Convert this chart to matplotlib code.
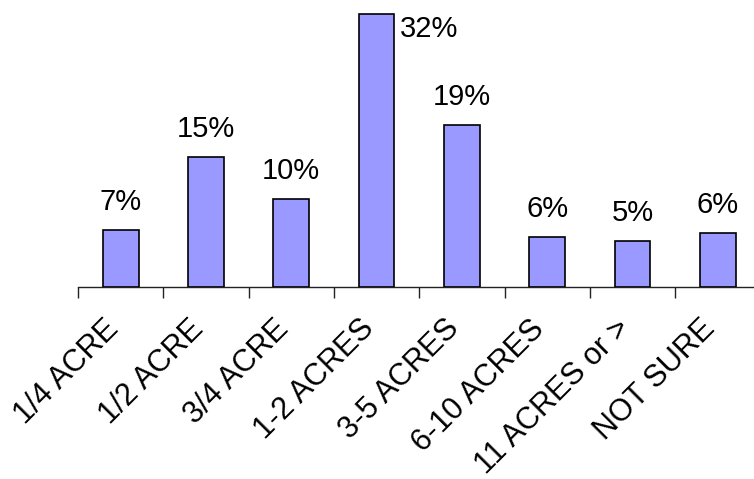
import matplotlib
matplotlib.use("Agg")
import matplotlib.pyplot as plt
import matplotlib.transforms as mtransforms
import numpy as np

categories = ["1/4 ACRE", "1/2 ACRE", "3/4 ACRE", "1-2 ACRES", "3-5 ACRES",
              "6-10 ACRES", "11 ACRES or >", "NOT SURE"]
values = [6.7, 15.2, 10.3, 32.0, 19.0, 5.9, 5.4, 6.3]

plt.rcParams['font.family'] = ['Liberation Sans', 'DejaVu Sans']

fig = plt.figure(figsize=(7.54, 4.79), dpi=100)
ax = fig.add_axes([78/754, 192/479, 682.4/754, 287/479])

x = np.arange(len(categories))
bars = ax.bar(x, values, width=0.42, color="#9999FF", edgecolor="black", linewidth=1.2, zorder=3)

ax.set_xlim(-0.5, len(categories) - 0.5)
ax.set_ylim(0, 33.6)

for i, v in enumerate(values):
    label = f"{v:.0f}%"
    if v > 30:
        ax.annotate(label, (i + 0.21, v), xytext=(4, -1), textcoords="offset points",
                    ha="left", va="top", fontsize=21, annotation_clip=False)
    else:
        ax.annotate(label, (i, v), xytext=(0, 10), textcoords="offset points",
                    ha="center", va="bottom", fontsize=21, annotation_clip=False)

for s in ["top", "right", "left"]:
    ax.spines[s].set_visible(False)
ax.spines["bottom"].set_color("#222222")
ax.spines["bottom"].set_linewidth(1.0)
ax.set_yticks([])

ax.set_xticks(x)
ax.set_xticklabels(categories, rotation=45, ha="right", va="center",
                   rotation_mode="anchor", fontsize=22)
ax.tick_params(axis="x", which="major", length=0, pad=27)
offset = mtransforms.ScaledTranslation(-7/100, 0, fig.dpi_scale_trans)
for lbl in ax.get_xticklabels():
    lbl.set_transform(lbl.get_transform() + offset)
ax.set_xticks(np.arange(-0.5, len(categories)), minor=True)
ax.tick_params(axis="x", which="minor", length=8, width=1.0, color="#222222", direction="out")

fig.savefig("out.png", dpi=100)
